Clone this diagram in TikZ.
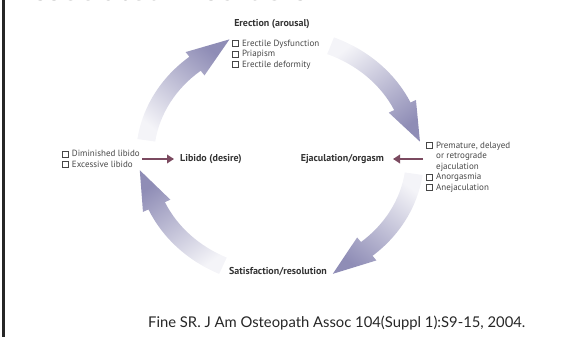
\documentclass[tikz,border=0pt]{standalone}
\usepackage{fontspec}
\setmainfont{PT Sans}
\newfontfamily\citefont{Lato}
\usetikzlibrary{calc,positioning,arrows.meta}
\definecolor{cyclehead}{HTML}{8F8DB6}
\definecolor{cycletail}{HTML}{F4F4F8}
\definecolor{pointercol}{HTML}{7B4A60}
\definecolor{labeltext}{HTML}{333333}
\definecolor{itemtext}{HTML}{474747}
\newcommand{\ckbox}{{\fboxsep=0pt\fboxrule=0.45pt\fbox{\rule{0pt}{5.6pt}\rule{5.6pt}{0pt}}}\hspace{3.4pt}}
\newcommand{\ckindent}{\hspace*{10pt}}

\begin{document}
\begin{tikzpicture}[x=1pt, y=1pt,
    stage/.style  = {font=\bfseries\fontsize{10}{12}\selectfont, text=labeltext, inner sep=0pt},
    items/.style  = {font=\fontsize{9}{10.4}\selectfont, text=itemtext, align=left, inner sep=0pt},
    pointer/.style = {draw=pointercol, line width=2.6pt, -{Triangle[length=7pt,width=8.5pt]}}]

  \useasboundingbox (0,0) rectangle (564,339);
  \coordinate (c) at (280,182);

  % slide title, cut off at the top
  \begin{scope}
    \clip (0,0) rectangle (564,339);
    \node[anchor=base west, inner sep=0pt, text=black!65, font=\citefont\fontsize{32}{36}\selectfont] (title) at (12,338) {Associated Disorders};
  \end{scope}
  \draw[line width=2.6pt, black!85] (3.3,339) -- (3.3,2);

  % cycle arrows
  \foreach \a/\b in {172/129, 68/25, -8/-50, 245/204}{
    \pgfmathsetmacro{\t}{\b-18}
    \pgfmathsetmacro{\s}{(\a+\t)/2-180}
    \shade[bottom color=cycletail, top color=cyclehead, shading angle=\s]
      ($(c)+(\a:144 and 129)$) arc[start angle=\a, end angle=\b, x radius=144, y radius=129]
      -- ($(c)+(\b:150 and 135)$) -- ($(c)+(\t:141 and 126)$) -- ($(c)+(\b:120 and 105)$)
      -- ($(c)+(\b:126 and 111)$) arc[start angle=\b, end angle=\a, x radius=126, y radius=111]
      -- cycle;
  }

  \node[stage] (erection) at (272,315) {Erection (arousal)};
  \node[items, below=11pt of erection.south west, anchor=north west, xshift=-2pt] (erectitems)
    {\ckbox Erectile Dysfunction\\ \ckbox Priapism\\ \ckbox Erectile deformity};

  \node[stage, anchor=west] (libido) at (180,180) {Libido (desire)};
  \node[items, left=40pt of libido] (libiditems)
    {\ckbox Diminished libido\\ \ckbox Excessive libido};

  \node[stage, anchor=east] (ejac) at (384,180) {Ejaculation/orgasm};
  \node[items, right=42pt of ejac, yshift=-8pt] (ejacitems)
    {\ckbox Premature, delayed\\ \ckindent or retrograde\\ \ckindent ejaculation\\ \ckbox Anorgasmia\\ \ckbox Anejaculation};

  \node[stage] (satis) at (278,67) {Satisfaction/resolution};

  \draw[pointer, shorten <=2pt, shorten >=6pt] (libiditems.east |- libido) -- (libido.west);
  \draw[pointer, shorten <=3pt, shorten >=9pt] (ejacitems.west |- ejac) -- (ejac.east);

  \node[anchor=west, inner sep=0pt, text=black!85, font=\citefont\fontsize{14.8}{17}\selectfont] (citation) at (148,16)
    {Fine SR. J Am Osteopath Assoc 104(Suppl 1):S9-15, 2004.};
\end{tikzpicture}
\end{document}
